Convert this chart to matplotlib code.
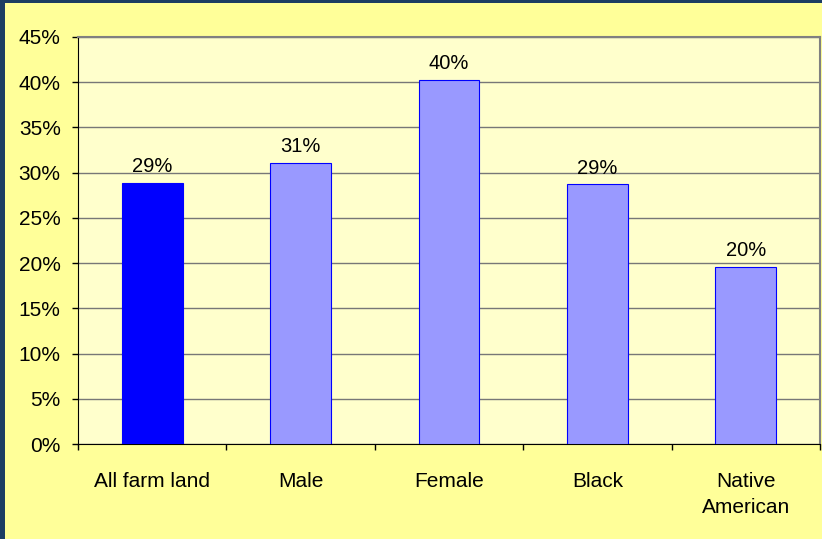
import matplotlib
matplotlib.use("Agg")
import matplotlib.pyplot as plt
from matplotlib.patches import Rectangle
import numpy as np

categories = ["All farm land", "Male", "Female", "Black", "Native\nAmerican"]
values = [28.9, 31.1, 40.3, 28.7, 19.6]
labels = ["29%", "31%", "40%", "29%", "20%"]
yticks = [0, 5, 10, 15, 20, 25, 30, 35, 40, 45]

plt.rcParams['font.family'] = ['Liberation Sans', 'DejaVu Sans']

W, H = 822, 539
fig = plt.figure(figsize=(W/100, H/100), dpi=100, facecolor="#1c3d62")
# yellow panel
fig.patches.append(Rectangle((5/W, 0), 1 - 5/W, 1 - 3/H, transform=fig.transFigure,
                             facecolor="#FFFF99", edgecolor="none", zorder=-10))

ax = fig.add_axes([78/W, 1 - 444/H, (820-78)/W, (444-37)/H])
ax.set_zorder(5)
ax.set_facecolor("#FFFFCC")
x = np.arange(len(categories))
colors = ["#0000FF"] + ["#9999FF"] * 4
ax.bar(x, values, width=0.41, color=colors, edgecolor="#0000FF", linewidth=0.8, zorder=3)
for xi, v, lab in zip(x, values, labels):
    ax.text(xi, v + 0.75, lab, ha="center", va="bottom", fontsize=14.5, color="black", zorder=4)

ax.set_xlim(-0.5, len(categories) - 0.5)
ax.set_ylim(0, 45)
ax.set_yticks(yticks)
ax.set_yticklabels([f"{t}%" for t in yticks], fontsize=15)
ax.yaxis.grid(True, color="#777777", linewidth=1.0, zorder=1)
ax.set_axisbelow(True)

ax.set_xticks(x)
ax.set_xticklabels(categories, fontsize=15, linespacing=1.45)
ax.set_xticks(np.arange(len(categories) + 1) - 0.5, minor=True)
ax.tick_params(axis="x", which="major", length=0, pad=20)
ax.tick_params(axis="x", which="minor", length=4, width=1, direction="out", color="black")
ax.tick_params(axis="y", length=4.5, width=1, direction="out", pad=8)

for s in ["top", "right"]:
    ax.spines[s].set_color("#808080")
    ax.spines[s].set_linewidth(1.5)
ax.spines["left"].set_color("black")
ax.spines["bottom"].set_color("black")

fig.savefig("out.png", dpi=100, facecolor=fig.get_facecolor())
